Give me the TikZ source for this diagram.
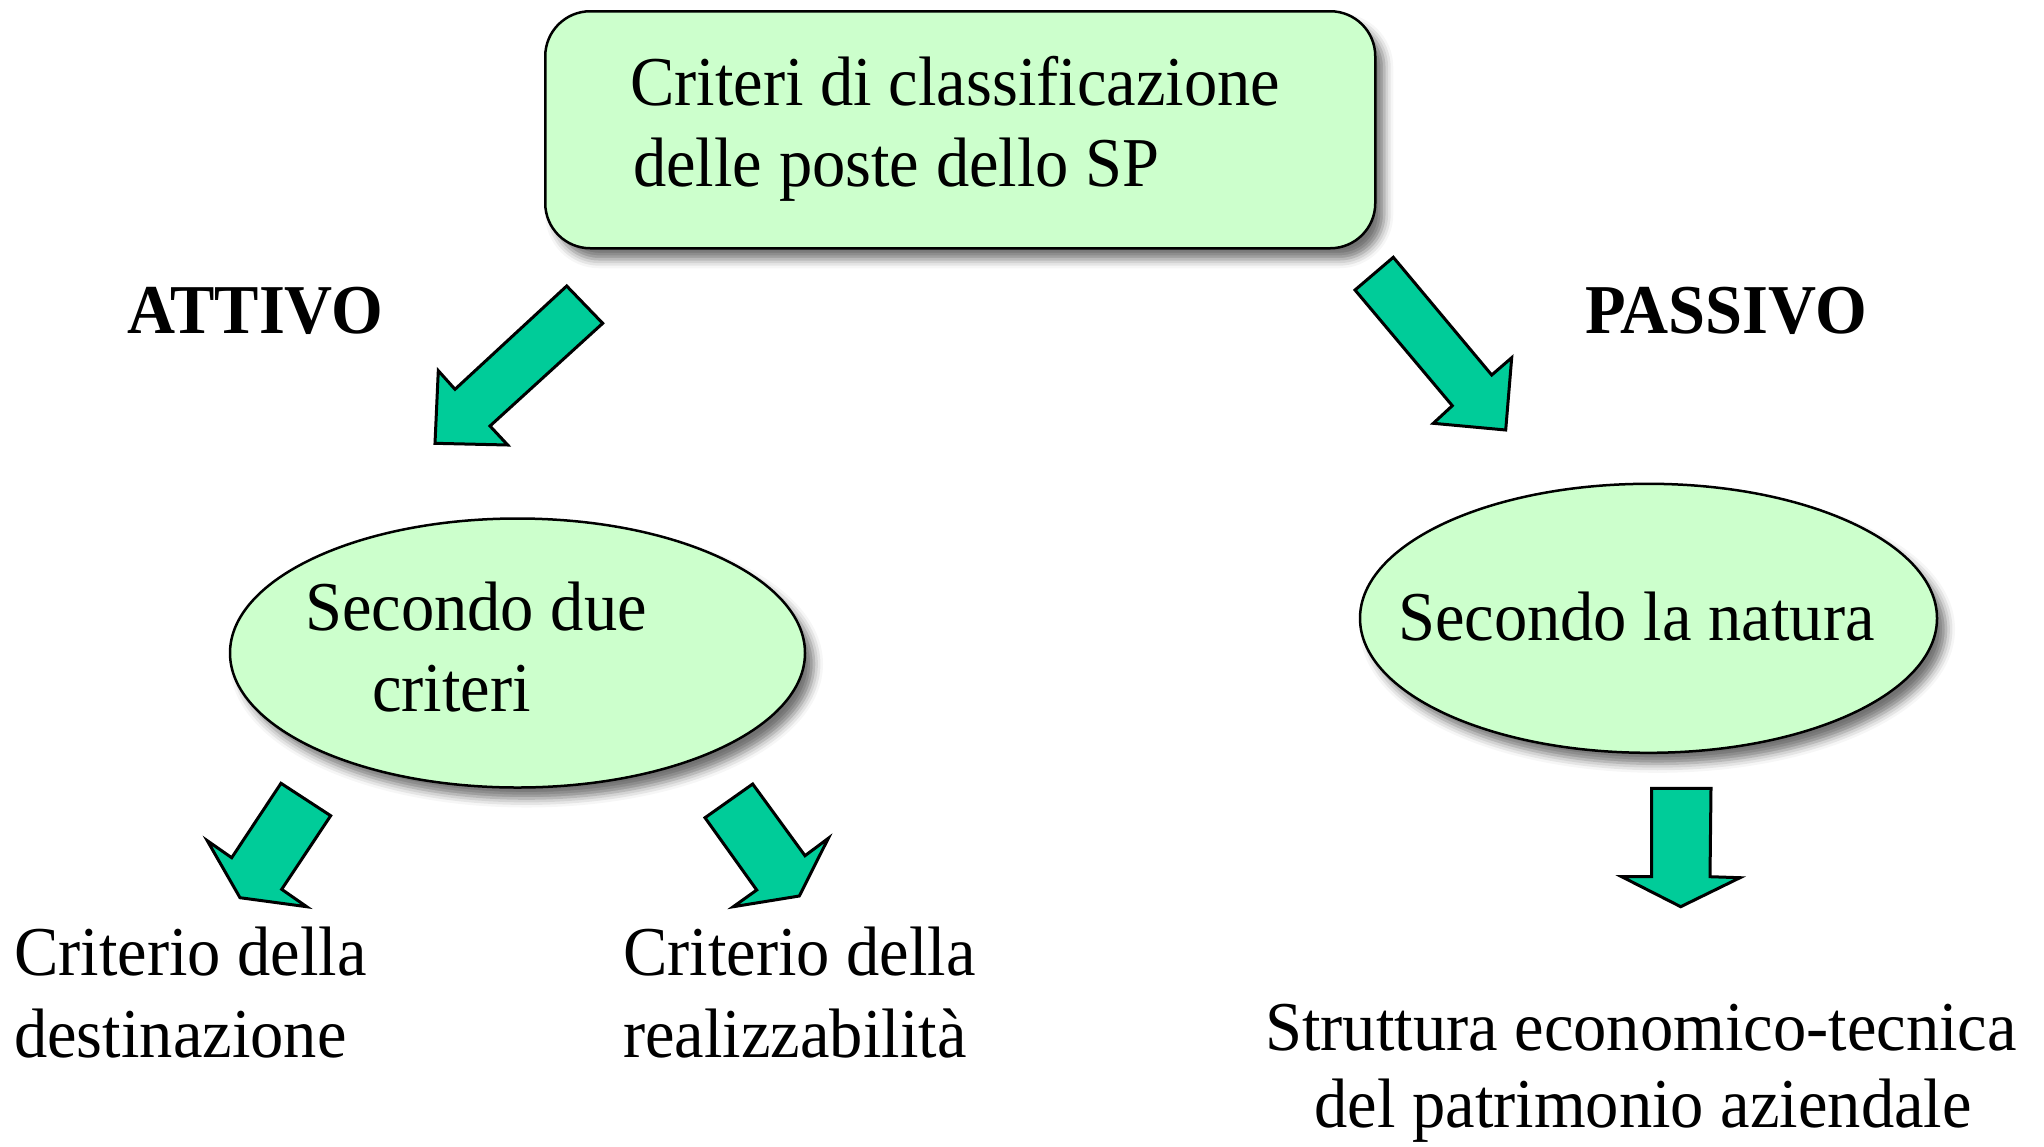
\documentclass[tikz,border=0pt]{standalone}
\usepackage{fontspec}
\setmainfont{Liberation Serif}[FakeStretch=0.95]
\usetikzlibrary{shapes.geometric,shadows.blur}
\definecolor{boxfill}{RGB}{204,255,204}
\definecolor{arrowgreen}{RGB}{0,204,153}
\begin{document}
\begin{tikzpicture}[x=1pt,y=-1pt,
  txt/.style={font=\fontsize{70}{81}\selectfont, inner sep=0pt},
  boldtxt/.style={font=\fontsize{70}{80}\selectfont\bfseries, inner sep=0pt},
  shapebox/.style={draw=black, line width=2.5pt, fill=boxfill,
    blur shadow={shadow xshift=9pt, shadow yshift=-11pt, shadow blur radius=9pt, shadow opacity=55}},
  blockarrow/.style={draw=black, line width=3pt, fill=arrowgreen, line join=miter}]
\useasboundingbox (0,0) rectangle (2044,1146);

% top box
\node[shapebox, rectangle, rounded corners=45pt, minimum width=830pt, minimum height=237pt, anchor=north west] (top) at (544,10) {};
\node[txt, anchor=base west] (t1) at (630,105) {Criteri di classificazione};
\node[txt, anchor=base west] (t2) at (633,186) {delle poste dello SP};

% side labels
\node[boldtxt, anchor=base west] (attivo) at (127,333) {ATTIVO};
\node[boldtxt, anchor=base west] (passivo) at (1585,333) {PASSIVO};

% ellipses
\node[shapebox, ellipse, minimum width=575pt, minimum height=269pt] (ell1) at (517.5,653) {};
\node[shapebox, ellipse, minimum width=577pt, minimum height=269pt] (ell2) at (1648.5,618.3) {};
\node[txt, anchor=base west] (e1a) at (305,630) {Secondo due};
\node[txt, anchor=base west] (e1b) at (372,711.7) {criteri};
\node[txt, anchor=base west] (e2a) at (1398,640.7) {Secondo la natura};

% bottom texts
\node[txt, anchor=base west] (b1a) at (14,975) {Criterio della};
\node[txt, anchor=base west] (b1b) at (14,1057) {destinazione};
\node[txt, anchor=base west] (b2a) at (623,975) {Criterio della};
\node[txt, anchor=base west] (b2b) at (623,1057) {realizzabilità};
\node[txt, anchor=base] (b3a) at (1641,1050) {Struttura economico-tecnica};
\node[txt, anchor=base] (b3b) at (1643,1127) {del patrimonio aziendale};

% block arrows
\draw[blockarrow] (566.7,286) -- (602.7,323.3) -- (490,426) -- (507.7,445) -- (435,443.3) -- (438.3,370.7) -- (455,389.3) -- cycle;
\draw[blockarrow] (1393.3,257.3) -- (1491.7,375) -- (1511.7,357.7) -- (1505.7,430) -- (1433.3,423.3) -- (1452.3,405.7) -- (1355,290) -- cycle;
\draw[blockarrow] (281,783.3) -- (330.7,815.7) -- (281.7,889.3) -- (306.7,906.7) -- (240,897.7) -- (207.3,840.7) -- (231.7,857.7) -- cycle;
\draw[blockarrow] (752.7,784) -- (805,855.7) -- (828.3,838.3) -- (799.3,896) -- (733.3,906.7) -- (756.7,890) -- (705,817.7) -- cycle;
\draw[blockarrow] (1651.7,788.3) -- (1711,788.3) -- (1710,876.7) -- (1740,877.7) -- (1680.7,906.7) -- (1621.7,876.7) -- (1651.7,876.7) -- cycle;
\end{tikzpicture}
\end{document}
